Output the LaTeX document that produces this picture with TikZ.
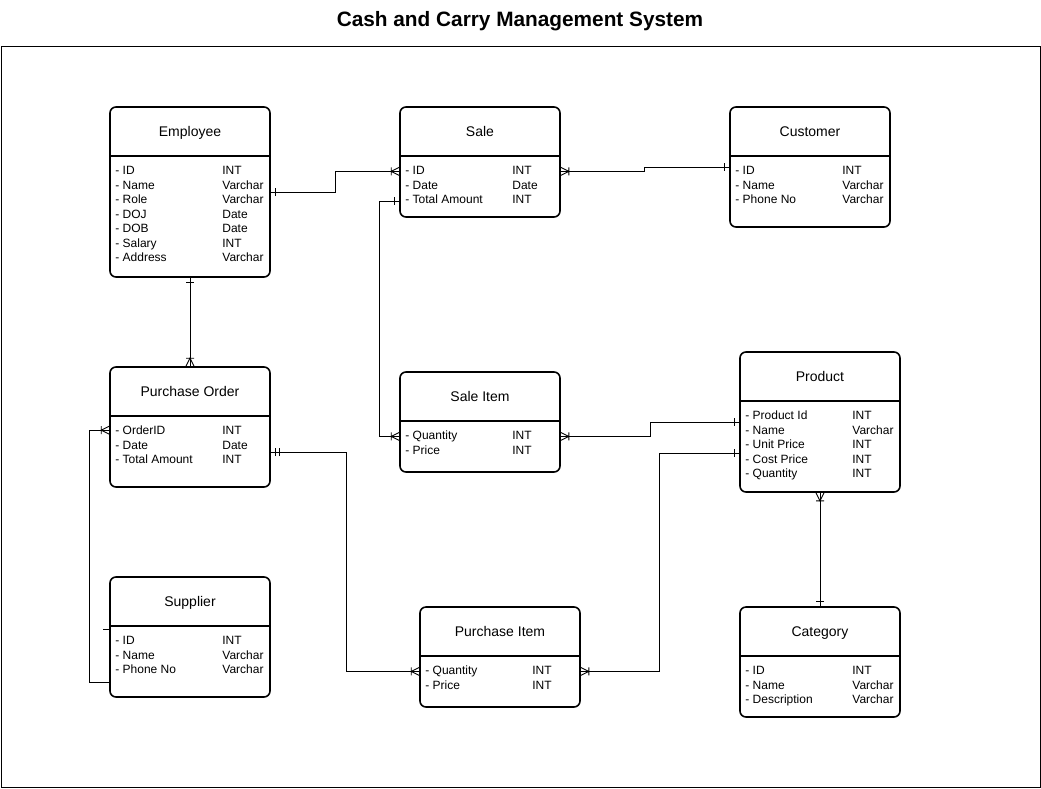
\documentclass[tikz,border=0pt]{standalone}
\usepackage{fontspec}
\setmainfont{Liberation Sans}
\usepackage{tikz}
\usetikzlibrary{%
  calc, positioning, decorations.markings
}
\usepackage{xcolor}
\tikzstyle{entity} = [%
  rectangle,
  rounded corners=6pt,
  draw=black,
  line width=1.6pt,
  minimum width=160pt,
  fill=white,
  inner sep=0pt
]

\begin{document}
\begin{tikzpicture}[%
  x=1pt, y=-1pt,
  every node/.style={%
    font=\fontsize{12}{14}\selectfont,
    inner sep=0pt
  },
  ename/.style={anchor=base,font=\fontsize{14}{16}\selectfont},
  attr/.style={anchor=base west},
  divider/.style={draw=black,line width=1.6pt},
  rel/.style={draw=black,line width=0.9pt},
  one/.style={postaction={decorate,decoration={markings,
    mark=at position 0 with {\draw[line width=0.9pt] (5pt,-4pt) -- (5pt,4pt);}}}},
  two/.style={postaction={decorate,decoration={markings,
    mark=at position 0 with {\draw[line width=0.9pt] (5pt,-4pt) -- (5pt,4pt) (9pt,-4pt) -- (9pt,4pt);}}}},
  many/.style={postaction={decorate,decoration={markings,
    mark=at position 1.0 with {\draw[line width=0.9pt] (0pt,4pt) -- (-8pt,0pt) -- (0pt,-4pt) (-8pt,-4pt) -- (-8pt,4pt);}}}}
]
  \useasboundingbox (0,0) rectangle (1041,788);

  % Frame and title
  \draw[line width=0.9pt] (1,46) rectangle (1040,787);
  \node[font=\bfseries\fontsize{20.8}{24}\selectfont] (title) at (520,21) {Cash and Carry Management System};

  % Employee
  \node[entity,minimum height=170pt] (emp) at (190,192) {};
  \node[ename] (emp-n) at ($(emp.north)+(0,30)$) {Employee};
  \draw[divider] ($(emp.north west)+(0,50)$) -- ($(emp.north east)+(0,50)$);
  \foreach \a/\t [count=\i] in {ID/INT, Name/Varchar, Role/Varchar, DOJ/Date, DOB/Date, Salary/INT, Address/Varchar}{
    \node[attr] (emp-a\i) at ($(emp.north west)+(6,53.8+14.5*\i)$) {- \a};
    \node[attr] (emp-t\i) at ($(emp.north west)+(113,53.8+14.5*\i)$) {\t};
  }

  % Sale
  \node[entity,minimum height=110pt] (sale) at (480,162) {};
  \node[ename] (sale-n) at ($(sale.north)+(0,30)$) {Sale};
  \draw[divider] ($(sale.north west)+(0,50)$) -- ($(sale.north east)+(0,50)$);
  \foreach \a/\t [count=\i] in {ID/INT, Date/Date, Total Amount/INT}{
    \node[attr] (sale-a\i) at ($(sale.north west)+(6,53.8+14.5*\i)$) {- \a};
    \node[attr] (sale-t\i) at ($(sale.north west)+(113,53.8+14.5*\i)$) {\t};
  }

  % Customer
  \node[entity,minimum height=120pt] (cust) at (810,167) {};
  \node[ename] (cust-n) at ($(cust.north)+(0,30)$) {Customer};
  \draw[divider] ($(cust.north west)+(0,50)$) -- ($(cust.north east)+(0,50)$);
  \foreach \a/\t [count=\i] in {ID/INT, Name/Varchar, Phone No/Varchar}{
    \node[attr] (cust-a\i) at ($(cust.north west)+(6,53.8+14.5*\i)$) {- \a};
    \node[attr] (cust-t\i) at ($(cust.north west)+(113,53.8+14.5*\i)$) {\t};
  }

  % Purchase Order
  \node[entity,minimum height=120pt] (po) at (190,427) {};
  \node[ename] (po-n) at ($(po.north)+(0,30)$) {Purchase Order};
  \draw[divider] ($(po.north west)+(0,50)$) -- ($(po.north east)+(0,50)$);
  \foreach \a/\t [count=\i] in {OrderID/INT, Date/Date, Total Amount/INT}{
    \node[attr] (po-a\i) at ($(po.north west)+(6,53.8+14.5*\i)$) {- \a};
    \node[attr] (po-t\i) at ($(po.north west)+(113,53.8+14.5*\i)$) {\t};
  }

  % Sale Item
  \node[entity,minimum height=100pt] (si) at (480,422) {};
  \node[ename] (si-n) at ($(si.north)+(0,30)$) {Sale Item};
  \draw[divider] ($(si.north west)+(0,50)$) -- ($(si.north east)+(0,50)$);
  \foreach \a/\t [count=\i] in {Quantity/INT, Price/INT}{
    \node[attr] (si-a\i) at ($(si.north west)+(6,53.8+14.5*\i)$) {- \a};
    \node[attr] (si-t\i) at ($(si.north west)+(113,53.8+14.5*\i)$) {\t};
  }

  % Product
  \node[entity,minimum height=140pt] (prod) at (820,422) {};
  \node[ename] (prod-n) at ($(prod.north)+(0,30)$) {Product};
  \draw[divider] ($(prod.north west)+(0,50)$) -- ($(prod.north east)+(0,50)$);
  \foreach \a/\t [count=\i] in {Product Id/INT, Name/Varchar, Unit Price/INT, Cost Price/INT, Quantity/INT}{
    \node[attr] (prod-a\i) at ($(prod.north west)+(6,53.8+14.5*\i)$) {- \a};
    \node[attr] (prod-t\i) at ($(prod.north west)+(113,53.8+14.5*\i)$) {\t};
  }

  % Supplier
  \node[entity,minimum height=120pt] (sup) at (190,637) {};
  \node[ename] (sup-n) at ($(sup.north)+(0,30)$) {Supplier};
  \draw[divider] ($(sup.north west)+(0,50)$) -- ($(sup.north east)+(0,50)$);
  \foreach \a/\t [count=\i] in {ID/INT, Name/Varchar, Phone No/Varchar}{
    \node[attr] (sup-a\i) at ($(sup.north west)+(6,53.8+14.5*\i)$) {- \a};
    \node[attr] (sup-t\i) at ($(sup.north west)+(113,53.8+14.5*\i)$) {\t};
  }

  % Purchase Item
  \node[entity,minimum height=100pt] (pi) at (500,657) {};
  \node[ename] (pi-n) at ($(pi.north)+(0,30)$) {Purchase Item};
  \draw[divider] ($(pi.north west)+(0,50)$) -- ($(pi.north east)+(0,50)$);
  \foreach \a/\t [count=\i] in {Quantity/INT, Price/INT}{
    \node[attr] (pi-a\i) at ($(pi.north west)+(6,53.8+14.5*\i)$) {- \a};
    \node[attr] (pi-t\i) at ($(pi.north west)+(113,53.8+14.5*\i)$) {\t};
  }

  % Category
  \node[entity,minimum height=110pt] (cat) at (820,662) {};
  \node[ename] (cat-n) at ($(cat.north)+(0,30)$) {Category};
  \draw[divider] ($(cat.north west)+(0,50)$) -- ($(cat.north east)+(0,50)$);
  \foreach \a/\t [count=\i] in {ID/INT, Name/Varchar, Description/Varchar}{
    \node[attr] (cat-a\i) at ($(cat.north west)+(6,53.8+14.5*\i)$) {- \a};
    \node[attr] (cat-t\i) at ($(cat.north west)+(113,53.8+14.5*\i)$) {\t};
  }

  % Relationships
  \draw[rel,one,many] (emp.east) -- ++(65,0) |- ($(sale.west |- sale-a1)+(0,1)$);
  \draw[rel,one,many] (cust.west) -- ++(-85,0) |- ($(sale.east |- sale-a1)+(0,1)$);
  \draw[rel,one,many] ($(sale.west |- sale-a3)+(0,2)$) -- ++(-20,0) |- (si.west |- si-a1);
  \draw[rel,one,many] (prod.west) -- ++(-89,0) |- (si.east |- si-a1);
  \draw[rel,one,many] (emp.south) -- (po.north);
  \draw[rel,many] ([yshift=15pt]sup.south west) -- ++(-20,0) |- (po.west |- po-a1);
  \draw[rel] ($(sup.north west)+(-6,53)$) -- ++(6,0);
  \draw[rel,two,many] ([yshift=-25pt]po.east) -- ++(76,0) |- (pi.west |- pi-a1);
  \draw[rel,one,many] ([yshift=-31pt]prod.west) -- ++(-80,0) |- (pi.east |- pi-a1);
  \draw[rel,one,many] (cat.north) -- (prod.south);

\end{tikzpicture}
\end{document}
